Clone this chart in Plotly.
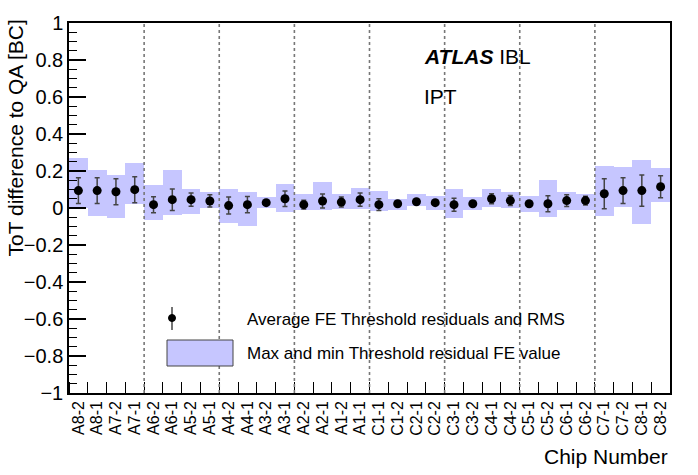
import plotly.graph_objects as go

chips = ["A8-2", "A8-1", "A7-2", "A7-1", "A6-2", "A6-1", "A5-2", "A5-1",
         "A4-2", "A4-1", "A3-2", "A3-1", "A2-2", "A2-1", "A1-2", "A1-1",
         "C1-1", "C1-2", "C2-1", "C2-2", "C3-1", "C3-2", "C4-1", "C4-2",
         "C5-1", "C5-2", "C6-1", "C6-2", "C7-1", "C7-2", "C8-1", "C8-2"]

avg = [0.094, 0.094, 0.088, 0.099, 0.018, 0.045, 0.045, 0.038,
       0.013, 0.018, 0.029, 0.050, 0.018, 0.038, 0.032, 0.045,
       0.018, 0.023, 0.034, 0.029, 0.018, 0.023, 0.050, 0.040,
       0.023, 0.023, 0.040, 0.040, 0.077, 0.094, 0.094, 0.115]

rms = [0.070, 0.070, 0.070, 0.070, 0.043, 0.058, 0.036, 0.033,
       0.046, 0.044, 0.010, 0.042, 0.024, 0.038, 0.027, 0.036,
       0.032, 0.012, 0.012, 0.012, 0.035, 0.012, 0.027, 0.027,
       0.012, 0.043, 0.032, 0.024, 0.081, 0.070, 0.084, 0.060]

fe_max = [0.270, 0.205, 0.178, 0.243, 0.124, 0.205, 0.101, 0.086,
          0.101, 0.086, 0.061, 0.130, 0.076, 0.140, 0.076, 0.108,
          0.092, 0.049, 0.076, 0.065, 0.103, 0.059, 0.103, 0.086,
          0.065, 0.151, 0.086, 0.076, 0.227, 0.222, 0.259, 0.216]

fe_min = [0.000, -0.043, -0.052, 0.020, -0.063, -0.036, -0.031, 0.002,
          -0.079, -0.096, 0.000, -0.020, -0.009, -0.010, -0.005, -0.003,
          -0.015, -0.009, 0.013, -0.009, -0.052, -0.009, 0.005, 0.000,
          -0.020, -0.047, -0.009, -0.009, -0.041, 0.007, -0.085, 0.034]

# staves of 4 chips separated by dotted lines
group_size = 4

font = "Liberation Sans, Arial, Helvetica, sans-serif"
band_color = "rgb(198,198,255)"
idx = list(range(len(chips)))

fig = go.Figure()

fig.add_trace(go.Bar(
    x=idx, y=[hi - lo for hi, lo in zip(fe_max, fe_min)], base=fe_min,
    width=1, marker=dict(color=band_color, line=dict(width=0)),
    showlegend=False, hoverinfo="skip"))

fig.add_trace(go.Scatter(
    x=idx, y=avg, mode="markers",
    marker=dict(color="black", size=9),
    error_y=dict(type="data", array=rms, color="#444444", thickness=1.5, width=2.5),
    showlegend=False))

# dotted separators between staves
for b in range(group_size, len(chips), group_size):
    fig.add_shape(type="line", xref="x", yref="paper", x0=b - 0.5, x1=b - 0.5,
                  y0=0, y1=1, line=dict(color="#777777", width=1.6, dash="dot"))

# frame in pixels: x 69..670, y 23..393
def px_x(p):
    return (p - 69) / 601.0

def px_y(p):
    return (393 - p) / 370.0

# manual ROOT-style legend
fig.add_shape(type="line", xref="paper", yref="paper",
              x0=px_x(172), x1=px_x(172), y0=px_y(307), y1=px_y(330),
              line=dict(color="#444444", width=1.5))
fig.add_shape(type="circle", xref="paper", yref="paper",
              x0=px_x(168.5), x1=px_x(175.5), y0=px_y(314.5), y1=px_y(321.5),
              fillcolor="black", line=dict(color="black", width=1))
fig.add_shape(type="rect", xref="paper", yref="paper",
              x0=px_x(167), x1=px_x(233), y0=px_y(366), y1=px_y(340),
              fillcolor=band_color, line=dict(color="#444444", width=1))

fig.add_annotation(x=px_x(245), y=px_y(319), xref="paper", yref="paper",
                   text="Average FE Threshold residuals and RMS", showarrow=False,
                   xanchor="left", yanchor="middle", font=dict(size=17, color="black", family=font))
fig.add_annotation(x=px_x(245), y=px_y(353), xref="paper", yref="paper",
                   text="Max and min Threshold residual FE value", showarrow=False,
                   xanchor="left", yanchor="middle", font=dict(size=17, color="black", family=font))

fig.add_annotation(x=px_x(422), y=px_y(57), xref="paper", yref="paper",
                   text="<b><i>ATLAS</i></b> IBL", showarrow=False,
                   xanchor="left", yanchor="middle", font=dict(size=21, color="black", family=font))
fig.add_annotation(x=px_x(422), y=px_y(97), xref="paper", yref="paper",
                   text="IPT", showarrow=False,
                   xanchor="left", yanchor="middle", font=dict(size=21, color="black", family=font))

fig.add_annotation(x=1, y=px_y(456), xref="paper", yref="paper",
                   text="Chip Number", showarrow=False,
                   xanchor="right", yanchor="middle", font=dict(size=21, color="black", family=font))
fig.add_annotation(x=px_x(15), y=px_y(18), xref="paper", yref="paper",
                   text="ToT difference to QA [BC]", showarrow=False, textangle=-90,
                   xanchor="center", yanchor="top", font=dict(size=21, color="black", family=font))

fig.update_layout(
    width=698, height=475,
    margin=dict(l=69, r=28, t=23, b=82),
    plot_bgcolor="white", paper_bgcolor="white",
    bargap=0, showlegend=False,
    font=dict(family=font, color="black"),
    xaxis=dict(
        range=[-0.5, len(chips) - 0.5], tickmode="array", tickvals=idx, ticktext=chips,
        tickangle=-90, ticks="", tickfont=dict(size=16, family=font),
        showgrid=False, zeroline=False, showline=True, mirror=True,
        linecolor="black", linewidth=1.5,
        minor=dict(tickmode="linear", tick0=0.5, dtick=1, ticks="inside",
                   ticklen=11, tickcolor="black", tickwidth=1.2, showgrid=False)),
    yaxis=dict(
        range=[-1, 1], dtick=0.2, tick0=-1, ticks="inside", ticklen=17,
        tickcolor="black", tickwidth=1.5, tickfont=dict(size=20, family=font),
        showgrid=False, zeroline=False, showline=True, mirror=True,
        linecolor="black", linewidth=1.5,
        minor=dict(dtick=0.05, ticks="inside", ticklen=8, tickcolor="black",
                   tickwidth=1.2, showgrid=False)),
)

# drop the browser's default body margin so the figure sits at the window origin
fig.write_html("out.html", config={"displayModeBar": False},
               post_script="document.body.style.margin='0';")
